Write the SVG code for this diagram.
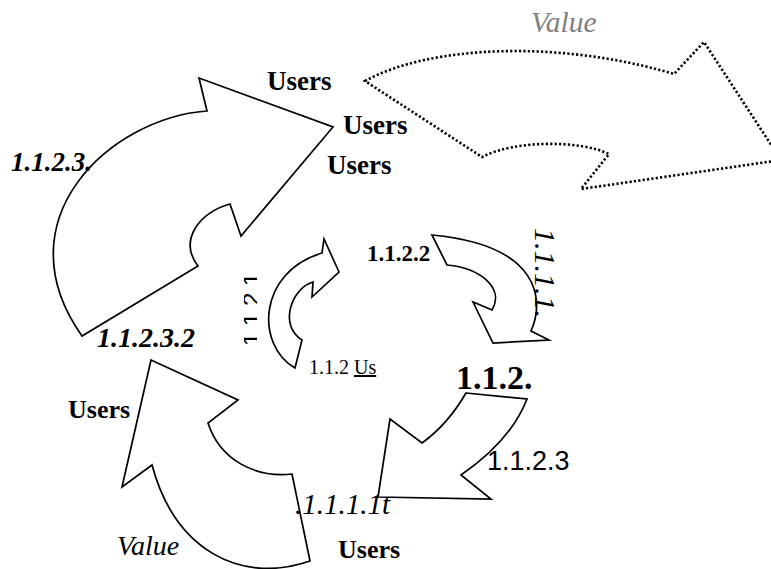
<svg xmlns="http://www.w3.org/2000/svg" width="771" height="569" viewBox="0 0 771 569">
  <style>
    .arrow { fill: #ffffff; stroke: #000000; stroke-width: 1.7; stroke-linejoin: miter; }
    .dotted { fill: #ffffff; stroke: #000000; stroke-width: 2.6; stroke-dasharray: 2.2 2.2; }
    .serif { font-family: "Liberation Serif", "Times New Roman", serif; fill: #000000; }
    .sans { font-family: "Liberation Sans", Arial, sans-serif; fill: #000000; }
    .b { font-weight: bold; }
    .i { font-style: italic; }
  </style>
  <defs>
    <clipPath id="clip-big"><rect x="440" y="350" width="97" height="50"/></clipPath>
    <clipPath id="clip-sub"><rect x="480" y="440" width="90" height="40"/></clipPath>
    <clipPath id="clip-low"><rect x="290" y="485" width="106" height="40"/></clipPath>
    <clipPath id="clip-vr"><rect x="525" y="222" width="40" height="100"/></clipPath>
    <clipPath id="clip-vl"><rect x="244" y="264" width="13" height="90"/></clipPath>
  </defs>

  <rect width="771" height="569" fill="#ffffff"/>

  <g id="connectors">
    <!-- outer return arrow, dotted -->
    <g id="arrow-value">
      <path class="dotted" d="M365,81 C430,45 560,40 674,74 L704,42 L781,160 L581,189 L609,154 C580,140 515,140 482,157 Z"/>
    </g>
    <!-- large upward arrow on the left -->
    <g id="arrow-users">
      <path class="arrow" d="M207,111 L199,78 L333,127 L241,236 L230,204 C200,212 178,240 198,266 L82,336 C0,220 110,118 207,111 Z"/>
    </g>
    <!-- small central arrow -->
    <g id="arrow-center">
      <path class="arrow" d="M322,253 L324,239 L339,272 L312,297 L313,282 C292,288 278,325 302,340 L295,368 C255,345 258,272 322,253 Z"/>
    </g>
    <!-- right arrow turning down -->
    <g id="arrow-right">
      <path class="arrow" d="M432,235 L447,265 C480,268 505,288 492,310 L473,302 L493,343 L549,340 L531,331 C545,300 540,245 432,235 Z"/>
    </g>
    <!-- lower right arrow pointing down-left -->
    <g id="arrow-lower-right">
      <path class="arrow" d="M466,393 L527,399 C515,430 490,455 461,475 L491,499 L378,497 L390,419 L422,443 C440,430 455,412 466,393 Z"/>
    </g>
    <!-- lower left arrow pointing up -->
    <g id="arrow-lower-left">
      <path class="arrow" d="M151,360 L238,400 L208,423 C220,460 255,478 292,474 L310,561 C240,585 175,550 152,465 L122,487 Z"/>
    </g>
  </g>

  <g id="labels">
    <g id="node-value-top"><text class="serif i" x="531" y="32" font-size="29.5" style="fill:#808080">Value</text></g>
    <g id="node-users-1"><text class="serif b" x="267" y="90" font-size="27">Users</text></g>
    <g id="node-users-2"><text class="serif b" x="343" y="134" font-size="27">Users</text></g>
    <g id="node-users-3"><text class="serif b" x="327" y="174" font-size="27">Users</text></g>
    <g id="node-1123"><text class="serif b i" x="11" y="171" font-size="27">1.1.2.3.</text></g>
    <g id="node-11232"><text class="serif b i" x="97" y="347" font-size="28">1.1.2.3.2</text></g>
    <g id="node-1122"><text class="serif b" x="367" y="261" font-size="23">1.1.2.2</text></g>
    <g id="node-112us"><text class="serif" x="309" y="374" font-size="20">1.1.2 <tspan text-decoration="underline">Us</tspan></text></g>
    <g id="node-112"><text class="serif b" x="456" y="389" font-size="34" clip-path="url(#clip-big)">1.1.2.</text></g>
    <g id="node-11231"><text class="sans" x="487" y="470" font-size="27" clip-path="url(#clip-sub)">1.1.2.3.1</text></g>
    <g id="node-users-left"><text class="serif b" x="68" y="418" font-size="26">Users</text></g>
    <g id="node-value-bottom"><text class="serif i" x="117" y="555" font-size="28">Value</text></g>
    <g id="node-users-bottom"><text class="serif b" x="338" y="558" font-size="26">Users</text></g>
    <g id="node-11111"><text class="serif i" x="295" y="514" font-size="29" clip-path="url(#clip-low)">.1.1.1.1t</text></g>
    <g id="node-vertical-right" clip-path="url(#clip-vr)">
      <text class="serif i" font-size="30" transform="translate(535,228) rotate(90)">1.1.1.1.</text>
    </g>
    <g id="node-vertical-left" clip-path="url(#clip-vl)">
      <text class="sans" font-size="24" transform="translate(260,346) rotate(-90)">1.1.2.1</text>
    </g>
  </g>
</svg>
